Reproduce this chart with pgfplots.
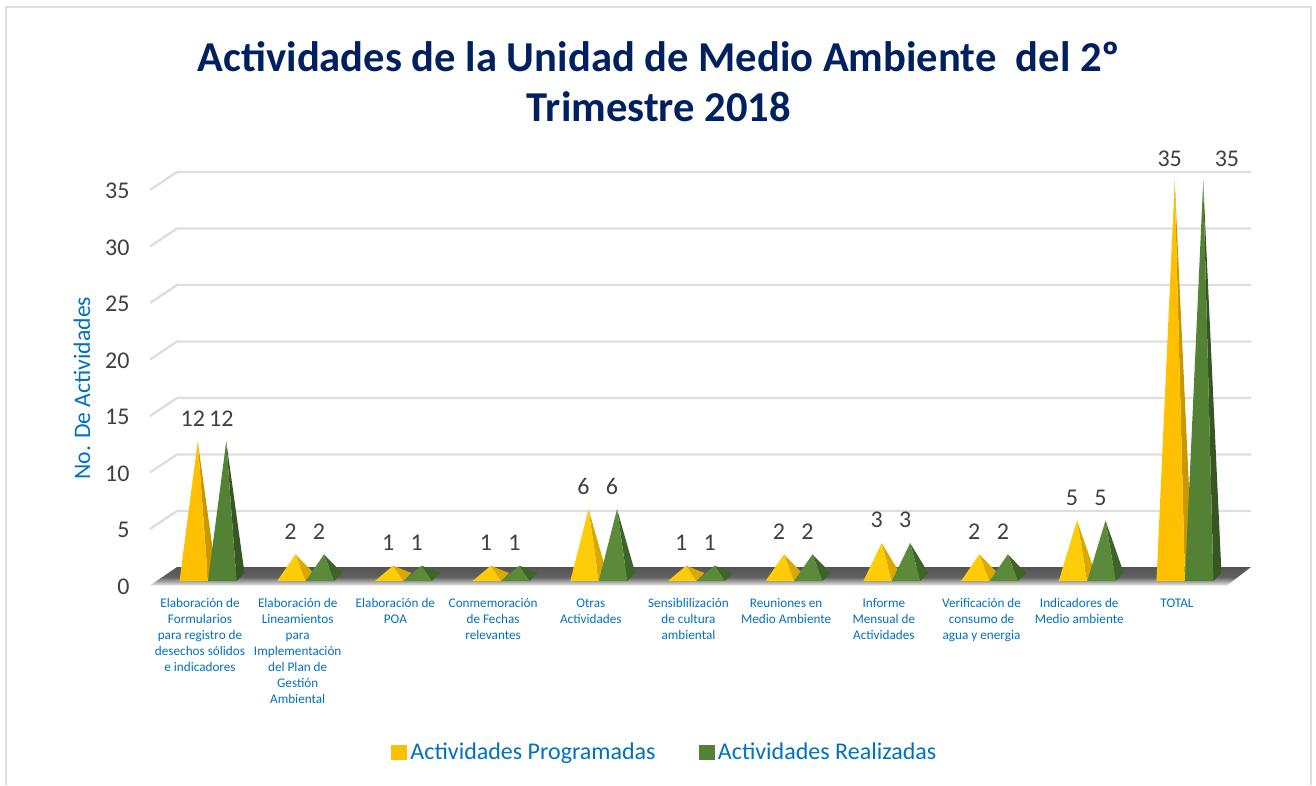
\documentclass[border=0pt]{standalone}
\usepackage{pgfplots}
\pgfplotsset{compat=1.18}
\usepackage{fontspec}
\setmainfont{Carlito}
\definecolor{navy}{HTML}{002060}
\definecolor{lblue}{HTML}{0070C0}
\definecolor{tgray}{HTML}{404040}
\definecolor{yfront}{HTML}{FFC000}
\definecolor{yside}{HTML}{C99700}
\definecolor{gfront}{HTML}{548235}
\definecolor{gside}{HTML}{375623}
\definecolor{yfronts}{HTML}{FFCD08}
\definecolor{ysides}{HTML}{D9A900}
\definecolor{gfronts}{HTML}{5A8A3A}
\definecolor{gsides}{HTML}{3E6427}
\definecolor{gridc}{HTML}{DEDEDE}
\pgfdeclareverticalshading{floorsh}{100bp}{color(0bp)=(black!4); color(25bp)=(black!8); color(36bp)=(black!35); color(48bp)=(black!62); color(75bp)=(black!67); color(100bp)=(black!67)}
% #1 category index, #2 value, #3 front colour, #4 side colour, #5 0 = left pyramid, 1 = right pyramid
\newcommand{\pyr}[5]{%
  \pgfmathsetmacro{\xl}{#1-0.2917+#5*0.2917}%
  \pgfmathsetmacro{\xr}{\xl+0.2917}%
  \pgfmathsetmacro{\xb}{\xr+0.0819}%
  \pgfmathsetmacro{\xt}{\xl+0.1458+0.041}%
  \addplot[fill=#4,draw=none,forget plot] coordinates {(\xr,-0.354) (\xb,0.354) (\xt,#2)} --cycle;
  \addplot[fill=#3,draw=none,forget plot] coordinates {(\xl,-0.354) (\xr,-0.354) (\xt,#2)} --cycle;
}
\newcommand{\gline}[1]{%
  \pgfmathsetmacro{\ya}{#1-0.752}\pgfmathsetmacro{\yb}{#1+0.841}%
  \addplot[gridc,line width=2.4pt,forget plot] coordinates {(-0.5937,\ya) (-0.317,\yb) (10.676,\yb)};
}
\begin{document}
\begin{tikzpicture}
\path[use as bounding box] (0,0) rectangle (1316pt,785pt);
\draw[gridc,line width=2pt] (6pt,0pt) -- (6pt,778pt) -- (1311pt,778pt) -- (1311pt,0pt);
\begin{axis}[
  at={(150pt,199.5pt)}, anchor=south west,
  scale only axis, width=1101pt, height=413.5pt,
  xmin=-0.5937, xmax=10.676, ymin=-0.752, ymax=35.84,
  clip=false,
  axis line style={draw=none},
  tick style={draw=none},
  /pgf/number format/assume math mode=true,
  ytick={0,5,...,35},
  yticklabel style={font=\fontsize{24}{24}\selectfont, text=tgray, yshift=-9.5pt, xshift=-17pt},
  xtick={0,...,10},
  xticklabels={
    {Elaboración de\\Formularios\\para registro de\\desechos sólidos\\e indicadores},
    {Elaboración de\\Lineamientos\\para\\Implementación\\del Plan de\\Gestión\\Ambiental},
    {Elaboración de\\POA},
    {Conmemoración\\de Fechas\\relevantes},
    {\rule{0pt}{9.6pt}Otras\\Actividades},
    {Sensiblilización\\de cultura\\ambiental},
    {Reuniones en\\Medio Ambiente},
    {Informe\\Mensual de\\Actividades},
    {Verificación de\\consumo de\\agua y energia},
    {Indicadores de\\Medio ambiente},
    {\rule{0pt}{9.6pt}TOTAL}},
  xticklabel style={font=\fontsize{13.2}{16}\selectfont, text=lblue, align=center, anchor=north, xshift=-8pt, yshift=-9pt},
  title={Actividades de la Unidad de Medio Ambiente\ \ del 2º\\Trimestre 2018},
  title style={font=\fontsize{42.6}{50.5}\selectfont\bfseries, text=navy, align=center,
     at={(axis description cs:0.4623,1.2045)}, anchor=center},
  ylabel={No. De Actividades},
  ylabel style={font=\fontsize{23.7}{24}\selectfont, text=lblue,
     at={(axis description cs:-0.0618,0.477)}, anchor=center},
  legend columns=2,
  legend style={at={(axis description cs:0.4675,-0.4027)}, anchor=center, draw=none, fill=none,
     font=\fontsize{24}{24}\selectfont, text=lblue,
     /tikz/every even column/.append style={column sep=41pt}},
  nodes near coords style={font=\fontsize{24}{24}\selectfont, text=tgray, anchor=center, yshift=23pt},
]
% wall grid
\gline{5}\gline{10}\gline{15}\gline{20}\gline{25}\gline{30}\gline{35}
% floor
\addplot[draw=none,forget plot,shading=floorsh]
  coordinates {(-0.5937,-0.752) (10.43,-0.752) (10.676,0.885) (-0.317,0.885)} --cycle;
% pyramids
\pyr{0}{12}{yfront}{yside}{0}\pyr{0}{12}{gfront}{gside}{1}
\pyr{1}{2}{yfronts}{ysides}{0}\pyr{1}{2}{gfronts}{gsides}{1}
\pyr{2}{1}{yfronts}{ysides}{0}\pyr{2}{1}{gfronts}{gsides}{1}
\pyr{3}{1}{yfronts}{ysides}{0}\pyr{3}{1}{gfronts}{gsides}{1}
\pyr{4}{6}{yfronts}{ysides}{0}\pyr{4}{6}{gfronts}{gsides}{1}
\pyr{5}{1}{yfronts}{ysides}{0}\pyr{5}{1}{gfronts}{gsides}{1}
\pyr{6}{2}{yfronts}{ysides}{0}\pyr{6}{2}{gfronts}{gsides}{1}
\pyr{7}{3}{yfronts}{ysides}{0}\pyr{7}{3}{gfronts}{gsides}{1}
\pyr{8}{2}{yfronts}{ysides}{0}\pyr{8}{2}{gfronts}{gsides}{1}
\pyr{9}{5}{yfronts}{ysides}{0}\pyr{9}{5}{gfronts}{gsides}{1}
\pyr{10}{35}{yfront}{yside}{0}\pyr{10}{35}{gfront}{gside}{1}
% data labels
\addplot[draw=none,mark=none,forget plot,nodes near coords,point meta=y] coordinates {
 (-0.156,12) (0.844,2) (1.844,1) (2.844,1) (3.844,6) (4.844,1) (5.844,2) (6.844,3) (7.844,2) (8.844,5) (9.844,35)};
\addplot[draw=none,mark=none,forget plot,nodes near coords,point meta=y] coordinates {
 (0.136,12) (1.136,2) (2.136,1) (3.136,1) (4.136,6) (5.136,1) (6.136,2) (7.136,3) (8.136,2) (9.136,5) (10.43,35)};
% legend
\addlegendimage{legend image code/.code={\fill[yfront] (0pt,-7pt) rectangle (15pt,7pt);\path (17pt,0pt);}}
\addlegendentry{Actividades Programadas}
\addlegendimage{legend image code/.code={\fill[gfront] (0pt,-7pt) rectangle (15pt,7pt);\path (17pt,0pt);}}
\addlegendentry{Actividades Realizadas}
\end{axis}
\end{tikzpicture}
\end{document}
